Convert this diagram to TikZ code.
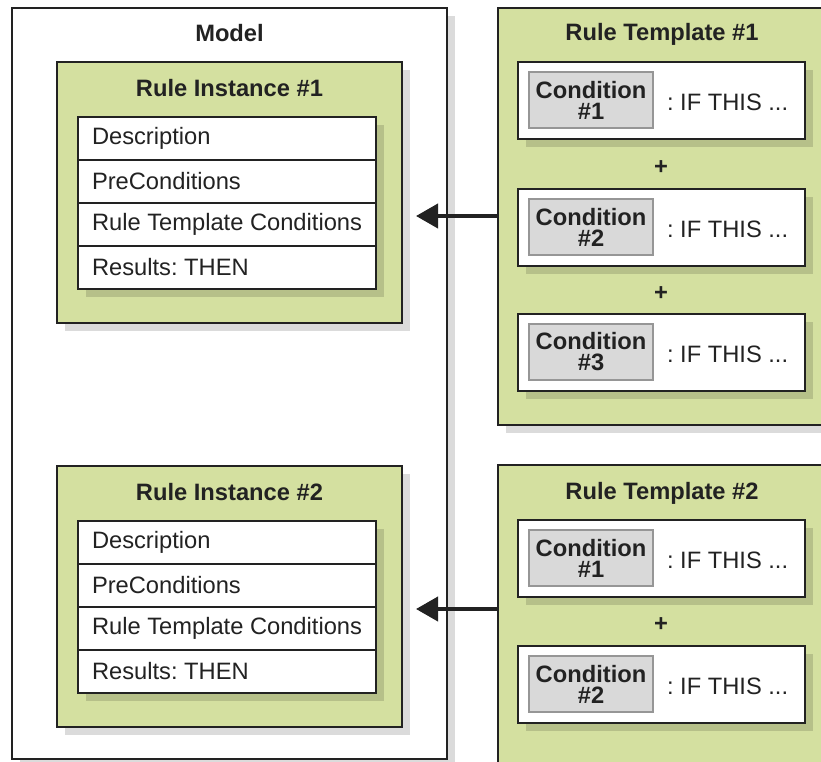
\documentclass[tikz,border=0pt]{standalone}
\usepackage{fontspec}
\setmainfont{Liberation Sans}
\usetikzlibrary{shadows,arrows.meta}
\definecolor{leaf}{RGB}{212,224,160}
\definecolor{ink}{RGB}{34,34,34}
\definecolor{chip}{RGB}{217,217,217}
\definecolor{chipline}{RGB}{150,150,150}
\tikzset{
  base/.style={font=\fontsize{23.7}{21}\selectfont\frenchspacing, inner sep=0pt, outer sep=0pt, text=ink},
  shade/.style={drop shadow={shadow xshift=8pt, shadow yshift=-8pt, fill=black, opacity=0.14}},
  panel/.style={base, draw=ink, line width=2.5pt, anchor=north west, shade},
  greenpanel/.style={panel, fill=leaf},
  whitepanel/.style={panel, fill=white},
  title/.style={base, font=\fontsize{23.7}{21}\selectfont\bfseries},
  row/.style={base, draw=ink, line width=2.5pt, fill=white, anchor=north west,
    minimum width=298pt, minimum height=43pt},
  rowtext/.style={base, anchor=west},
  chipbox/.style={base, font=\fontsize{23.7}{21}\selectfont\bfseries, draw=chipline,
    line width=1.5pt, fill=chip, anchor=north west, minimum width=124pt,
    minimum height=56pt, align=center},
  iftext/.style={base, anchor=west},
  link/.style={draw=ink, line width=4pt, -{Triangle[length=22pt,width=24pt]}}
}
% one condition line inside a rule template: name, top edge, number
\newcommand{\condentry}[3]{%
  \node[whitepanel, minimum width=287pt, minimum height=77pt] (#1) at (518,#2) {};
  \node[chipbox] (#1-chip) at ([xshift=11pt,yshift=-10pt]#1.north west) {Condition\\\##3};
  \node[iftext] (#1-if) at ([xshift=149pt,yshift=-2pt]#1.west) {: IF THIS ...};
}
% one row of an instance table: name, row above, text
\newcommand{\instrow}[3]{%
  \node[row] (#1) at (#2) {};
  \node[rowtext] (#1-text) at ([xshift=14pt]#1.west) {#3};
}
% one rule instance: name, top edge, number
\newcommand{\instance}[3]{%
  \node[greenpanel, minimum width=345pt, minimum height=261pt] (#1) at (57,#2) {};
  \node[title] (#1-title) at ([yshift=-26pt]#1.north) {Rule Instance \##3};
  \node[whitepanel, minimum width=298pt, minimum height=172pt] (#1-tbl) at ([xshift=21pt,yshift=-55pt]#1.north west) {};
  \instrow{#1-r1}{#1-tbl.north west}{Description}
  \instrow{#1-r2}{#1-r1.south west}{PreConditions}
  \instrow{#1-r3}{#1-r2.south west}{Rule Template Conditions}
  \instrow{#1-r4}{#1-r3.south west}{Results: THEN}
}
\begin{document}
\begin{tikzpicture}[x=1pt, y=-1pt]
  \clip (0,0) rectangle (821,761);
  \fill[white] (0,0) rectangle (821,761);

  % the model with its two rule instances
  \node[whitepanel, minimum width=435pt, minimum height=751pt] (model) at (12,8) {};
  \node[title] (model-title) at ([yshift=-25pt]model.north) {Model};
  \instance{ri1}{62}{1}
  \instance{ri2}{466}{2}

  % ends of the arrows from the templates into the instances
  \coordinate (tip1) at (416,216);
  \coordinate (tip2) at (416,609);

  % rule template 1
  \node[greenpanel, minimum width=328pt, minimum height=417pt] (rt1) at (498,8) {};
  \node[title] (rt1-title) at (662,34) {Rule Template \#1};
  \condentry{rt1c1}{62}{1}
  \node[title] (rt1p1) at (661,168) {+};
  \condentry{rt1c2}{189}{2}
  \node[title] (rt1p2) at (661,294) {+};
  \condentry{rt1c3}{314}{3}

  % rule template 2
  \node[greenpanel, minimum width=328pt, minimum height=310pt] (rt2) at (498,465) {};
  \node[title] (rt2-title) at (662,493) {Rule Template \#2};
  \condentry{rt2c1}{520}{1}
  \node[title] (rt2p1) at (661,625) {+};
  \condentry{rt2c2}{646}{2}

  \draw[link] (rt1.west |- tip1) -- (tip1);
  \draw[link] (rt2.west |- tip2) -- (tip2);
\end{tikzpicture}
\end{document}
